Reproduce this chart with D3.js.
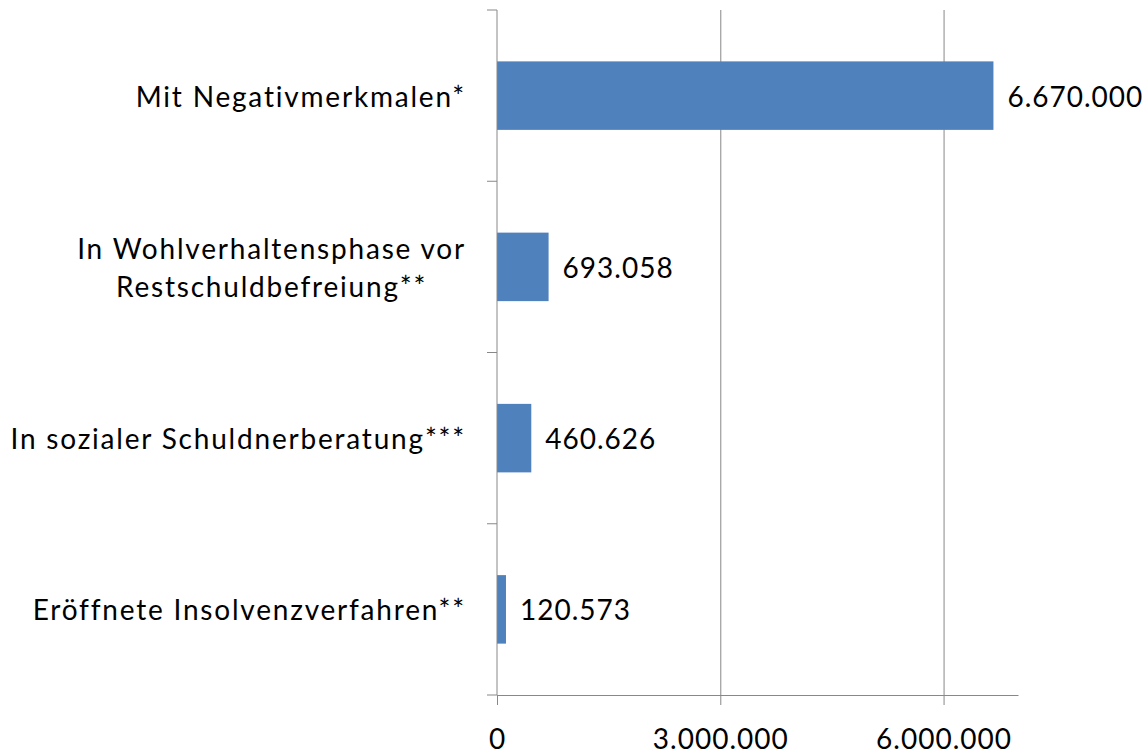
<!DOCTYPE html>
<html>
<head>
<meta charset="utf-8">
<script src="https://cdn.jsdelivr.net/npm/d3@7"></script>
<style>
  body { margin: 0; background: #fff; }
  text { font-family: Lato, "Open Sans", sans-serif; fill: #000; }
</style>
</head>
<body>
<div id="chart"></div>
<script>
// data
const categories = [
    ["Mit Negativmerkmalen*"],
    ["In Wohlverhaltensphase vor", "Restschuldbefreiung**"],
    ["In sozialer Schuldnerberatung***"],
    ["Eröffnete Insolvenzverfahren**"]
];
const values = [6670000, 693058, 460626, 120573];
const xTicks = [0, 3000000, 6000000];
const xMax = 7000000;

const W = 1147, H = 751;
const plot = { left: 497, right: 1018, top: 10, bottom: 695 };
const fontSize = 28;
const lineColor = "#888888";

const de = d3.formatLocale({ decimal: ",", thousands: ".", grouping: [3], currency: ["", " €"] });
const fmt = de.format(",d");

const svg = d3.select("#chart")
    .append("svg")
    .attr("width", W)
    .attr("height", H);

const keys = categories.map(c => c.join(" "));

const x = d3.scaleLinear()
    .domain([0, xMax])
    .range([plot.left, plot.right]);

const y = d3.scaleBand()
    .domain(keys)
    .range([plot.top, plot.bottom])
    .paddingInner(0.6)
    .paddingOuter(0.3);

// vertical gridlines
svg.append("g")
    .attr("transform", `translate(0,${plot.bottom})`)
    .call(d3.axisBottom(x).tickValues(xTicks.slice(1)).tickSize(-(plot.bottom - plot.top)).tickFormat(""))
    .call(g => g.select(".domain").remove())
    .call(g => g.selectAll("line").attr("stroke", lineColor));

// bars
svg.selectAll(".bar")
    .data(values)
    .enter().append("rect")
    .attr("class", "bar")
    .attr("fill", "#4F81BD")
    .attr("x", x(0))
    .attr("y", (d, i) => y(keys[i]))
    .attr("width", d => x(d) - x(0))
    .attr("height", y.bandwidth());

// x axis
const xAxis = svg.append("g")
    .attr("transform", `translate(0,${plot.bottom})`)
    .call(d3.axisBottom(x).tickValues(xTicks).tickSize(10).tickSizeOuter(0).tickPadding(24).tickFormat(fmt));
xAxis.select(".domain").attr("stroke", lineColor);
xAxis.selectAll("line").attr("stroke", lineColor);
xAxis.selectAll("text")
    .attr("font-size", fontSize)
    .attr("font-family", "Lato, 'Open Sans', sans-serif")
    .attr("letter-spacing", 1)
    .attr("fill", "#000");

// y axis line and category boundary ticks
const yAxis = svg.append("g");
yAxis.append("line")
    .attr("x1", x(0)).attr("x2", x(0))
    .attr("y1", plot.top).attr("y2", plot.bottom)
    .attr("stroke", lineColor);
const bounds = keys.map(k => y(k) - y.step() * y.paddingInner() / 2);
bounds.push(plot.bottom);
yAxis.selectAll(".ytick")
    .data(bounds)
    .enter().append("line")
    .attr("class", "ytick")
    .attr("x1", x(0) - 10).attr("x2", x(0))
    .attr("y1", d => d).attr("y2", d => d)
    .attr("stroke", lineColor);

// category labels: block right aligned, lines centered inside it
const labelRight = 466, lineHeight = 38;
categories.forEach((lines, i) => {
    const cy = y(keys[i]) + y.bandwidth() / 2;
    const t = svg.append("text")
        .attr("font-size", fontSize)
        .attr("letter-spacing", 1.8)
        .attr("text-anchor", "middle")
        .attr("dominant-baseline", "central");
    lines.forEach((l, j) => {
        t.append("tspan")
            .attr("y", cy + (j - (lines.length - 1) / 2) * lineHeight)
            .text(l);
    });
    let maxW = 0;
    t.selectAll("tspan").each(function () { maxW = Math.max(maxW, this.getComputedTextLength()); });
    t.selectAll("tspan").attr("x", labelRight - maxW / 2);
});

// value labels
svg.selectAll(".val")
    .data(values)
    .enter().append("text")
    .attr("class", "val")
    .attr("font-size", fontSize)
    .attr("letter-spacing", 1)
    .attr("dominant-baseline", "central")
    .attr("x", d => x(d) + 14)
    .attr("y", (d, i) => y(keys[i]) + y.bandwidth() / 2)
    .text(d => fmt(d));
</script>
</body>
</html>
